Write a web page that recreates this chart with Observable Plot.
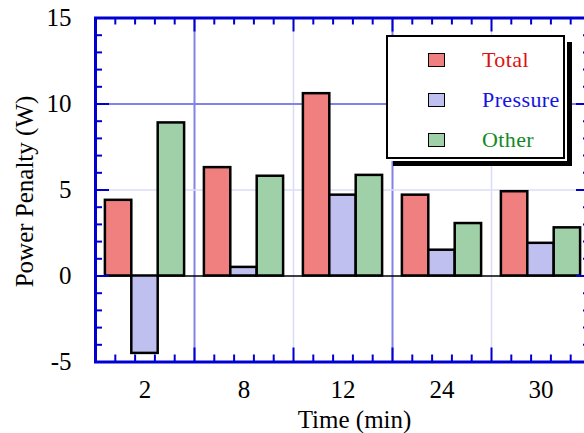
<!DOCTYPE html>
<html>
<head>
<meta charset="utf-8">
<script src="https://cdn.jsdelivr.net/npm/d3@7"></script>
<script src="https://cdn.jsdelivr.net/npm/@observablehq/plot@0.6"></script>
<style>
  html, body { margin: 0; padding: 0; overflow: hidden; background: #fff; }
  #wrap { position: relative; width: 600px; height: 433px; }
  #wrap svg text { font-family: "Liberation Serif", serif; }
  #legend {
    position: absolute; left: 386px; top: 35px; width: 179px; height: 124px;
    box-sizing: border-box; border: 2.5px solid #000; background: #fff;
    box-shadow: 2px 2px 0 0 #fff, 7px 7px 0 0 #000;
    font-family: "Liberation Serif", serif; font-size: 22px;
  }
  .row { position: absolute; left: 0; height: 24px; width: 100%; }
  .sw { position: absolute; left: 40px; top: 5px; width: 17px; height: 14px; box-sizing: border-box; border: 1.5px solid #000; }
  .lab { position: absolute; left: 94px; top: 0; line-height: 24px; letter-spacing: 0.4px; }
</style>
</head>
<body>
<div id="wrap"><div id="legend"></div></div>
<script>
// Categories, series and values
const categories = ["2", "8", "12", "24", "30"];
const seriesNames = ["Total", "Pressure", "Other"];
const totalW = [4.4, 6.3, 10.6, 4.7, 4.9];
const pressureW = [-4.5, 0.5, 4.7, 1.5, 1.9];
const otherW = [8.9, 5.8, 5.85, 3.05, 2.8];
const yTickValues = [-5, 0, 5, 10, 15];

const barFills = ["#f08080", "#c0c0f0", "#a0d0a8"];
const labelColors = ["#e01010", "#1414e0", "#128a24"];
const axisBlue = "#0000d0";
const gridMid = "#8282e8";
const gridLight = "#dcdcf8";
const serif = "Liberation Serif";

const seriesValues = [totalW, pressureW, otherW];
const rows = categories.flatMap((time, i) =>
  seriesNames.map((series, j) => ({time, i, series, j, value: seriesValues[j][i]}))
);

// Layout of the plot frame
const width = 600, height = 433;
const marginLeft = 95, marginRight = 10, marginTop = 17.5, marginBottom = 71.5;
const frameW = width - marginLeft - marginRight;
const frameH = height - marginTop - marginBottom;

// Bars sit side by side inside each category slot, with a small gap at both ends
const groupPad = 0.1;
const barW = (1 - 2 * groupPad) / seriesNames.length;

// Tick positions: major at slot boundaries / every 5 W, minor at fifths / every 1 W
const n = categories.length;
const majorX = d3.range(1, n);
const minorX = d3.range(n * 5).filter(k => k % 5 !== 0).map(k => k / 5);
const majorY = [0, 5, 10];
const minorY = d3.range(-5, 16).filter(v => v % 5 !== 0);

const minorLen = 7, majorLen = 14;
const tickStyle = {stroke: axisBlue, strokeWidth: 2};

const chart = Plot.plot({
  width, height, marginLeft, marginRight, marginTop, marginBottom,
  style: "font-family: 'Liberation Serif', serif; font-size: 25px; color: #000; max-width: none; background: #fff;",
  x: {type: "linear", domain: [0, n]},
  y: {domain: [-5, 15]},
  color: {domain: seriesNames, range: barFills},
  marks: [
    // grid
    Plot.ruleX(majorX, {stroke: d => (d % 2 === 1 ? gridMid : gridLight), strokeWidth: d => (d % 2 === 1 ? 2 : 1.5)}),
    Plot.ruleY([10], {stroke: gridMid, strokeWidth: 2}),
    Plot.ruleY([5], {stroke: gridLight, strokeWidth: 1.5}),
    Plot.ruleY([0], {stroke: "#000", strokeWidth: 1.5}),
    // bars
    Plot.rectY(rows, {
      x1: d => d.i + groupPad + d.j * barW,
      x2: d => d.i + groupPad + (d.j + 1) * barW,
      y1: 0,
      y2: "value",
      fill: "series",
      stroke: "#000",
      strokeWidth: 2.5
    }),
    // frame
    Plot.frame({stroke: axisBlue, strokeWidth: 3}),
    // inward ticks on all four sides
    Plot.ruleX(minorX, {...tickStyle, insetTop: frameH - minorLen}),
    Plot.ruleX(majorX, {...tickStyle, insetTop: frameH - majorLen}),
    Plot.ruleX(minorX, {...tickStyle, insetBottom: frameH - minorLen}),
    Plot.ruleX(majorX, {...tickStyle, insetBottom: frameH - majorLen}),
    Plot.ruleY(minorY, {...tickStyle, insetRight: frameW - minorLen}),
    Plot.ruleY(majorY, {...tickStyle, insetRight: frameW - majorLen}),
    Plot.ruleY(minorY, {...tickStyle, insetLeft: frameW - minorLen}),
    Plot.ruleY(majorY, {...tickStyle, insetLeft: frameW - majorLen}),
    // tick labels
    Plot.axisY({ticks: yTickValues, tickSize: 0, tickPadding: 24, tickFormat: d => String(d), label: null, fontSize: 25, fontFamily: serif}),
    Plot.axisX({
      ticks: categories.map((c, i) => i + 0.5),
      tickFormat: d => categories[Math.floor(d)],
      tickSize: 0, tickPadding: 18, label: null, fontSize: 25, fontFamily: serif
    }),
    // axis titles
    Plot.text(["Time (min)"], {frameAnchor: "bottom", textAnchor: "middle", lineAnchor: "middle", dx: 11.5, dy: 57.5, fontSize: 25, fontFamily: serif}),
    Plot.text(["Power Penalty (W)"], {frameAnchor: "left", textAnchor: "middle", lineAnchor: "middle", rotate: -90, dx: -71, dy: 1.5, fontSize: 25, fontFamily: serif})
  ]
});

const wrap = document.getElementById("wrap");
wrap.insertBefore(chart, wrap.firstChild);

// legend box inside the plot area
const legend = document.getElementById("legend");
seriesNames.forEach((name, j) => {
  const row = document.createElement("div");
  row.className = "row";
  row.style.top = (11 + j * 40) + "px";
  const sw = document.createElement("div");
  sw.className = "sw";
  sw.style.background = barFills[j];
  const lab = document.createElement("div");
  lab.className = "lab";
  lab.style.color = labelColors[j];
  lab.textContent = name;
  row.appendChild(sw);
  row.appendChild(lab);
  legend.appendChild(row);
});
</script>
</body>
</html>
